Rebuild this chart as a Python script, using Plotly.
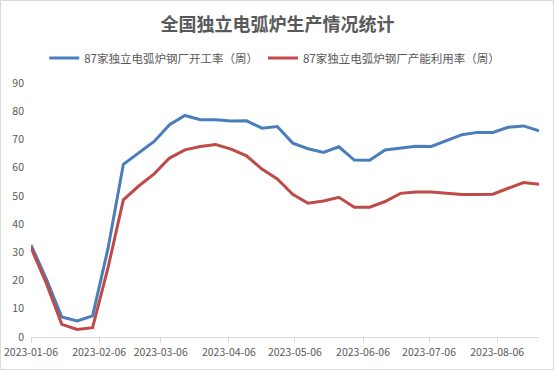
import plotly.graph_objects as go

dates = ["2023-01-06", "2023-01-13", "2023-01-20", "2023-01-27", "2023-02-03", "2023-02-10",
         "2023-02-17", "2023-02-24", "2023-03-03", "2023-03-10", "2023-03-17", "2023-03-24",
         "2023-03-31", "2023-04-07", "2023-04-14", "2023-04-21", "2023-04-28", "2023-05-05",
         "2023-05-12", "2023-05-19", "2023-05-26", "2023-06-02", "2023-06-09", "2023-06-16",
         "2023-06-23", "2023-06-30", "2023-07-07", "2023-07-14", "2023-07-21", "2023-07-28",
         "2023-08-04", "2023-08-11", "2023-08-18", "2023-08-25"]

operating_rate = [32.6, 20.5, 7.1, 5.7, 7.5, 31.3, 61.2, 65.3, 69.3, 75.2, 78.5, 77.0,
                  77.0, 76.5, 76.6, 74.0, 74.6, 68.7, 66.7, 65.4, 67.4, 62.7, 62.6, 66.3,
                  66.9, 67.6, 67.5, 69.6, 71.7, 72.5, 72.5, 74.3, 74.8, 73.1]

capacity_util = [31.6, 19.0, 4.5, 2.7, 3.3, 24.5, 48.6, 53.5, 57.8, 63.4, 66.3, 67.5,
                 68.2, 66.6, 64.2, 59.5, 56.0, 50.6, 47.4, 48.2, 49.5, 46.0, 46.0, 48.0,
                 50.9, 51.4, 51.4, 51.0, 50.5, 50.5, 50.6, 52.7, 54.7, 54.1]

series_names = ["87家独立电弧炉钢厂开工率（周）", "87家独立电弧炉钢厂产能利用率（周）"]
title_text = "全国独立电弧炉生产情况统计"

x_tickvals = ["2023-01-06", "2023-02-06", "2023-03-06", "2023-04-06",
              "2023-05-06", "2023-06-06", "2023-07-06", "2023-08-06"]
y_tickvals = [0, 10, 20, 30, 40, 50, 60, 70, 80, 90]

FONT = "Noto Sans CJK SC"
TXT = "#595959"

fig = go.Figure()
fig.add_trace(go.Scatter(x=dates, y=operating_rate, mode="lines", name=series_names[0],
                         line=dict(color="#4A7EBB", width=3)))
fig.add_trace(go.Scatter(x=dates, y=capacity_util, mode="lines", name=series_names[1],
                         line=dict(color="#BE4B48", width=3)))

W, H = 555, 371
ml, mr, mt, mb = 31, 16, 83, 34
pw, ph = W - ml - mr, H - mt - mb

fig.update_layout(
    width=W, height=H,
    margin=dict(l=ml, r=mr, t=mt, b=mb, autoexpand=False),
    paper_bgcolor="white", plot_bgcolor="white",
    font=dict(family=FONT, color=TXT),
    title=dict(text="<b>" + title_text + "</b>", x=0.5, xanchor="center",
               xref="container", y=1 - 25 / H, yanchor="middle", yref="container",
               font=dict(size=18, color=TXT, family=FONT)),
    showlegend=True,
    legend=dict(orientation="h", x=0.495, xanchor="center", xref="container",
                y=1 - 58 / H, yanchor="middle", yref="container",
                font=dict(size=11.5, color=TXT, family=FONT),
                itemwidth=30, tracegroupgap=0, bgcolor="rgba(0,0,0,0)"),
    xaxis=dict(type="date", range=["2023-01-06", "2023-08-25"], automargin=False,
               tickvals=x_tickvals, ticktext=x_tickvals,
               showgrid=False, zeroline=False,
               showline=True, linecolor="#D9D9D9", linewidth=1,
               ticks="outside", ticklen=5, tickcolor="#D9D9D9",
               tickfont=dict(size=10.5, color=TXT, family=FONT)),
    yaxis=dict(range=[0, 90], tickvals=y_tickvals, automargin=False,
               showgrid=False, zeroline=False, showline=False,
               ticks="", ticklabelstandoff=6,
               tickfont=dict(size=10.5, color=TXT, family=FONT)),
    shapes=[dict(type="rect", xref="paper", yref="paper",
                 x0=(-ml + 0.5) / pw, x1=(pw + mr - 1.5) / pw,
                 y0=(-mb + 1.5) / ph, y1=(ph + mt - 0.5) / ph,
                 line=dict(color="#D9D9D9", width=1), layer="below")],
)

fig.write_html("out.html", config={"displayModeBar": False},
               post_script="document.body.style.margin='0';document.body.style.overflow='hidden';")
